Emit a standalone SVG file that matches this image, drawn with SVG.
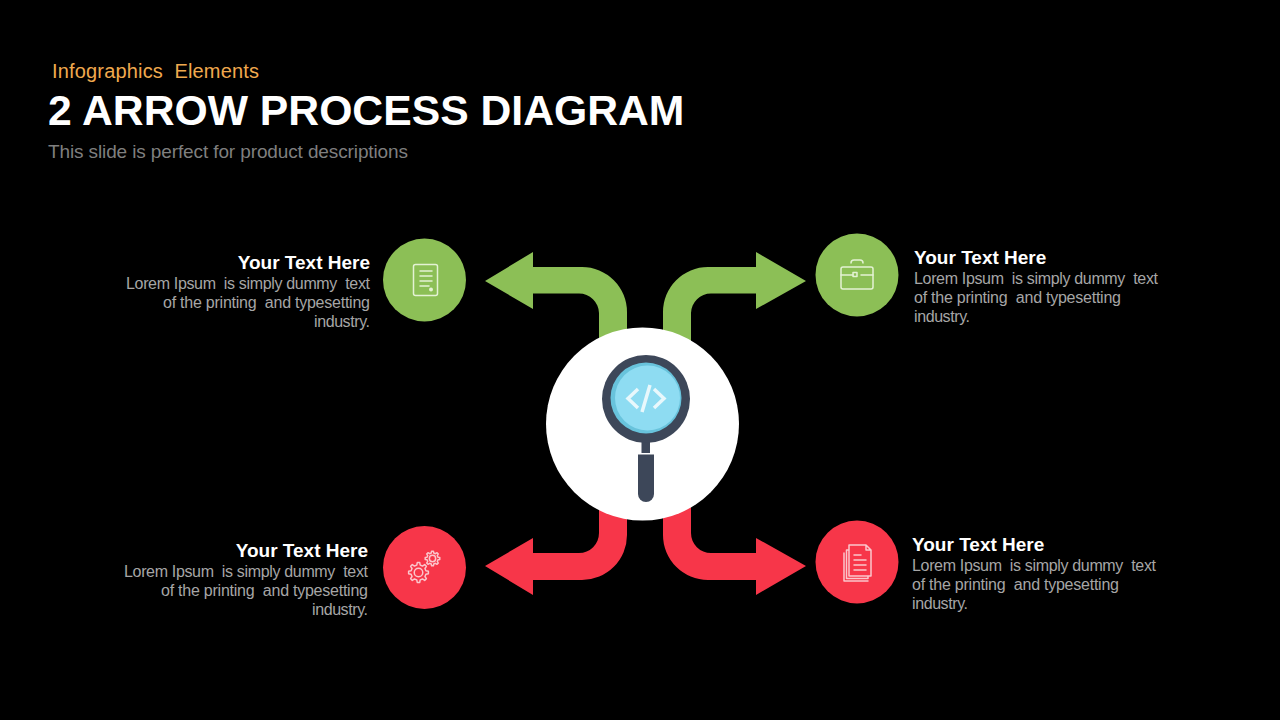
<svg xmlns="http://www.w3.org/2000/svg" width="1280" height="720" viewBox="0 0 1280 720">
<style>
text{font-family:"Liberation Sans",Arial,sans-serif}
.h{font-size:19px;font-weight:700;fill:#fff}
.b{font-size:16px;fill:#a6a6a6}
.e{text-anchor:end}
.g{fill:#8cbf56}
.r{fill:#f73649}
.i{fill:none;stroke-width:1.5;stroke-linecap:round;stroke-linejoin:round}
.ig{stroke:#e4f2d4}
.ir{stroke:#fbc6cc}
.n{vector-effect:non-scaling-stroke}
</style>
<defs>
<path id="gear" class="n" d="M7.800 -1.800L10.400 -1.300V1.300L7.800 1.800L6.800 4.200L8.300 6.500L6.500 8.300L4.200 6.800L1.800 7.800L1.300 10.400H-1.300L-1.800 7.800L-4.200 6.800L-6.500 8.300L-8.300 6.500L-6.800 4.200L-7.800 1.800L-10.400 1.300V-1.300L-7.800 -1.800L-6.800 -4.200L-8.300 -6.500L-6.500 -8.300L-4.200 -6.800L-1.800 -7.800L-1.300 -10.400H1.300L1.800 -7.800L4.200 -6.800L6.500 -8.300L8.300 -6.500L6.800 -4.200ZM4.500 0A4.500 4.500 0 1 0 -4.500 0A4.500 4.500 0 1 0 4.500 0Z"/>
</defs>
<rect width="1280" height="720" fill="#000"/>
<g id="title">
<text x="52" y="78" font-size="20" fill="#f0a94e" xml:space="preserve" textLength="207">Infographics  Elements</text>
<text x="48" y="125" font-size="42.700" font-weight="700" fill="#fff">2 ARROW PROCESS DIAGRAM</text>
<text x="48" y="158" font-size="19" fill="#7f7f7f" textLength="360">This slide is perfect for product descriptions</text>
</g>
<g id="connectors">
<path class="g" d="M485 281L533 252V267H582A45 45 0 0 1 627 312V345H599V313A20 20 0 0 0 579 293.500H533V309Z"/>
<path class="g" d="M806 281L756 252V267H708A45 45 0 0 0 663 312V345H691V313A20 20 0 0 1 711 293.500H756V309Z"/>
<path class="r" d="M485 566L533 538V553H579A20 20 0 0 0 599 533V505H627V535A45 45 0 0 1 582 580H533V595Z"/>
<path class="r" d="M806 566L756 538V553H711A20 20 0 0 1 691 533V505H663V535A45 45 0 0 0 708 580H756V595Z"/>
</g>
<g id="node-center">
<circle cx="642.500" cy="424" r="96.500" fill="#fff"/>
<rect x="641.500" y="438" width="8.500" height="15" fill="#3d4759"/>
<path d="M638 454.500H654V494A8 8 0 0 1 638 494Z" fill="#3d4759"/>
<circle cx="646" cy="399" r="44" fill="#3d4759"/>
<circle cx="646" cy="398" r="35.500" fill="#68c3dc"/>
<circle cx="647.500" cy="398" r="32.500" fill="#8edcf2"/>
<path d="M638 389L628 398.500L638 408M654 389L664 398.500L654 408M650 385L642 412" fill="none" stroke="#e8f8fc" stroke-width="3.500"/>
</g>
<g id="node-top-left">
<circle class="g" cx="424.500" cy="280" r="41.500"/>
<rect class="i ig" x="413.500" y="264.500" width="24" height="31" rx="2"/>
<path class="i ig" d="M420 271H432M420 276H432M420 281H432M420 286H429"/>
<circle cx="431" cy="289.500" r="2" fill="#e4f2d4"/>
<text class="h e" x="370" y="269">Your Text Here</text>
<text class="b e" x="370" y="289" xml:space="preserve" textLength="244">Lorem Ipsum  is simply dummy  text</text>
<text class="b e" x="370" y="308" xml:space="preserve" textLength="207">of the printing  and typesetting</text>
<text class="b e" x="370" y="327" textLength="56">industry.</text>
</g>
<g id="node-top-right">
<circle class="g" cx="857" cy="275" r="41.500"/>
<rect class="i ig" x="841" y="267" width="32" height="22" rx="2"/>
<path class="i ig" d="M851 263Q851 260 854 260H860Q863 260 863 263M841 275H853M861 275H873"/>
<rect class="i ig" x="853" y="272.500" width="4" height="4"/>
<text class="h" x="914" y="264">Your Text Here</text>
<text class="b" x="914" y="284" xml:space="preserve" textLength="244">Lorem Ipsum  is simply dummy  text</text>
<text class="b" x="914" y="303" xml:space="preserve" textLength="207">of the printing  and typesetting</text>
<text class="b" x="914" y="322" textLength="56">industry.</text>
</g>
<g id="node-bottom-left">
<circle class="r" cx="424.500" cy="567.500" r="41.500"/>
<use href="#gear" class="i ir" transform="translate(418.500 572.500) scale(.95)"/>
<use href="#gear" class="i ir" transform="translate(432.500 558.500) scale(.7)"/>
<text class="h e" x="368" y="557">Your Text Here</text>
<text class="b e" x="368" y="577" xml:space="preserve" textLength="244">Lorem Ipsum  is simply dummy  text</text>
<text class="b e" x="368" y="596" xml:space="preserve" textLength="207">of the printing  and typesetting</text>
<text class="b e" x="368" y="615" textLength="56">industry.</text>
</g>
<g id="node-bottom-right">
<circle class="r" cx="857" cy="562" r="41.500"/>
<path class="i ir" d="M849 545H866L871 550V576H849ZM866 545V550H871M849 550H846.500V578.500H868V576M844 553V581H868"/>
<path class="i ir" stroke-width="2" d="M854 555H861M854 560H866M854 565H866M854 570H866"/>
<text class="h" x="912" y="551">Your Text Here</text>
<text class="b" x="912" y="571" xml:space="preserve" textLength="244">Lorem Ipsum  is simply dummy  text</text>
<text class="b" x="912" y="590" xml:space="preserve" textLength="207">of the printing  and typesetting</text>
<text class="b" x="912" y="609" textLength="56">industry.</text>
</g>
</svg>
